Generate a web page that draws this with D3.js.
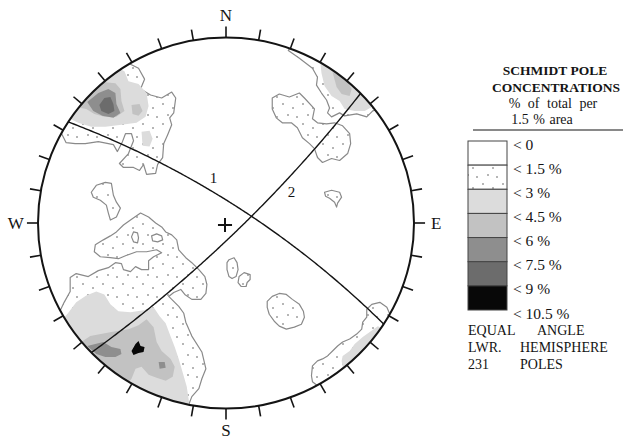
<!DOCTYPE html>
<html>
<head>
<meta charset="utf-8">
<script src="https://cdn.jsdelivr.net/npm/d3@7"></script>
<style>
  body { margin: 0; background: #fff; }
  svg text { font-family: "Liberation Serif", "DejaVu Serif", serif; fill: #141414; }
</style>
</head>
<body>
<div id="chart"></div>
<script>
// ---- data (net units: primitive circle radius = 187, origin at net centre, y up) ----
const contourLevels = [0, 1.5, 3, 4.5, 6, 7.5, 9, 10.5];
const poleCount = 231;
const cardinals = [["N", 0], ["E", 90], ["S", 180], ["W", 270]];
const planes = [
  {id: "1", dipDir: 33, dip: 78},
  {id: "2", dipDir: 135.7, dip: 82}
];

// contour outlines; level = index of the class band
const nwCluster = [
  {level: 1, pts: [[-95,160],[-87,156],[-81,145],[-85,135],[-75,129],[-64,126],[-54,132],[-50,126],[-52,111],[-56,106],[-54,99],[-58,89],[-62,80],[-63,66],[-68,59],[-70,50],[-79,49],[-82,59],[-86,53],[-92,56],[-102,56],[-106,60],[-97,70],[-92,83],[-94,90],[-100,90],[-103,82],[-108,72],[-112,79],[-127,82],[-140,80],[-150,80],[-159,81],[-164,91],[-195,100],[-165,185],[-100,205]]},
  {level: 2, pts: [[-109,157],[-101,153],[-97,143],[-87,140],[-79,131],[-77,118],[-80,107],[-89,101],[-104,99],[-120,97],[-134,97],[-147,101],[-155,105],[-195,110],[-135,185]]},
  {level: 2, pts: [[-84,92],[-76,93],[-73,85],[-76,77],[-83,78]]},
  {level: 3, pts: [[-155,118],[-150,127],[-132,137],[-120,142],[-110,141],[-105,135],[-104,123],[-101,113],[-109,107],[-121,107],[-131,110],[-139,115]]},
  {level: 3, pts: [[-94,119],[-86,120],[-83,113],[-87,108],[-93,110]]},
  {level: 4, pts: [[-138,122],[-127,131],[-117,135],[-110,131],[-109,120],[-105,111],[-112,106],[-123,108],[-132,113]]},
  {level: 5, pts: [[-126,119],[-121,126],[-115,127],[-112,120],[-111,113],[-117,110],[-124,113]]}
];

const neCluster = [
  {level: 1, pts: [[62,174],[73,166],[86,156],[91,147],[90,139],[95,131],[100,124],[103,116],[101,111],[105,107],[113,111],[118,108],[130,110],[140,107],[146,113],[185,130],[80,200]]},
  {level: 2, pts: [[93,168],[95,151],[98,138],[105,128],[113,123],[118,115],[128,113],[138,113],[145,117],[180,140],[110,185]]},
  {level: 3, pts: [[106,152],[119,146],[125,135],[123,128],[115,130],[110,137]]},
  {level: 1, pts: [[46,126],[53,130],[63,127],[73,131],[78,126],[88,115],[86,105],[91,101],[100,100],[108,101],[116,98],[123,90],[124,80],[121,70],[113,63],[105,65],[96,61],[91,66],[88,75],[83,80],[76,86],[71,96],[65,101],[56,101],[50,106],[46,115]]}
];

const westCluster = [
  {level: 1, pts: [[-169,-97],[-161,-80],[-155,-69],[-155,-55],[-149,-51],[-137,-54],[-127,-48],[-117,-45],[-110,-40],[-104,-41],[-102,-47],[-95,-49],[-90,-44],[-84,-47],[-77,-47],[-77,-38],[-72,-34],[-64,-30],[-69,-27],[-79,-29],[-89,-29],[-100,-33],[-107,-36],[-115,-35],[-125,-34],[-131,-29],[-130,-22],[-122,-17],[-115,-13],[-109,-9],[-102,-2],[-95,3],[-85,10],[-77,6],[-70,0],[-64,-4],[-60,-9],[-54,-12],[-49,-17],[-47,-27],[-40,-35],[-34,-40],[-27,-47],[-21,-54],[-19,-62],[-20,-71],[-25,-77],[-34,-77],[-41,-72],[-45,-67],[-52,-70],[-57,-74],[-47,-84],[-42,-91],[-40,-100],[-34,-114],[-24,-130],[-20,-147],[-24,-157],[-27,-167],[-34,-175],[-37,-183],[-40,-205],[-160,-160],[-200,-100]]},
  {level: 0, pts: [[-92,-9],[-88,-10],[-87,-15],[-88,-20],[-92,-19],[-94,-14]]},
  {level: 0, pts: [[-74,-13],[-69,-11],[-64,-13],[-63,-17],[-68,-19],[-73,-18]]},
  {level: 1, pts: [[-129,38],[-120,41],[-114,40],[-112,28],[-109,21],[-105,15],[-109,6],[-115,3],[-117,10],[-119,18],[-125,23],[-132,26],[-134,31]]}
];

const swCluster = [
  {level: 2, pts: [[-175,-110],[-158,-92],[-149,-80],[-139,-73],[-129,-69],[-121,-72],[-115,-82],[-107,-89],[-95,-90],[-82,-88],[-72,-85],[-66,-94],[-60,-101],[-56,-112],[-51,-125],[-47,-137],[-43,-151],[-39,-165],[-37,-179],[-35,-200],[-127,-180]]},
  {level: 3, pts: [[-147,-122],[-135,-114],[-114,-110],[-97,-107],[-87,-103],[-79,-97],[-72,-105],[-69,-120],[-64,-129],[-55,-137],[-51,-145],[-53,-155],[-60,-159],[-69,-156],[-77,-153],[-84,-145],[-90,-147],[-94,-157],[-99,-163],[-127,-150]]},
  {level: 4, pts: [[-138,-124],[-122,-120],[-114,-125],[-105,-127],[-104,-132],[-110,-135],[-120,-135],[-129,-132]]},
  {level: 4, pts: [[-67,-140],[-61,-140],[-60,-146],[-66,-147]]},
  {level: 6, pts: [[-90,-122],[-87,-119],[-85,-124],[-81,-125],[-82,-130],[-87,-131],[-92,-133],[-94,-129]]}
];

const seCluster = [
  {level: 1, pts: [[140,-87],[145,-82],[153,-80],[160,-85],[163,-92],[200,-110],[95,-190],[91,-164],[86,-160],[85,-154],[86,-144],[91,-139],[96,-137],[101,-134],[106,-129],[111,-124],[116,-120],[123,-117],[130,-112],[135,-107],[136,-100],[140,-95]]},
  {level: 2, pts: [[151,-104],[143,-110],[136,-115],[128,-122],[123,-129],[116,-134],[115,-139],[116,-145],[140,-165],[175,-115]]}
];

const centralPatches = [
  {level: 1, pts: [[3,-37],[8,-35],[11,-40],[12,-47],[10,-54],[6,-56],[3,-54],[1,-47],[1,-40]]},
  {level: 1, pts: [[13,-54],[18,-50],[24,-52],[24,-57],[21,-60],[20,-64],[15,-64],[12,-60]]},
  {level: 1, pts: [[41,-79],[46,-74],[53,-71],[60,-72],[66,-77],[73,-82],[77,-89],[78,-95],[75,-102],[68,-105],[60,-107],[53,-104],[48,-99],[43,-92],[41,-85]]},
  {level: 1, pts: [[98,31],[105,33],[113,31],[115,26],[111,20],[110,16],[108,21],[103,25],[99,27]]}
];

// ---- layout / style ----
const W = 623, H = 444;
const netR = 187;
const cx = 226, cy = 223, rx = 188, ry = 185.5;
const levelFill = ["#ffffff", "url(#dots)", "#dcdcdc", "#c2c2c2", "#8e8e8e", "#6c6c6c", "#080808"];
const ink = "#141414";
const rad = Math.PI / 180;
const labelT = {"1": 69, "2": 50};

const x = d3.scaleLinear().domain([-netR, netR]).range([cx - rx, cx + rx]);
const y = d3.scaleLinear().domain([-netR, netR]).range([cy + ry, cy - ry]);

const svg = d3.select("#chart").append("svg")
  .attr("width", W)
  .attr("height", H);

const defs = svg.append("defs");
defs.append("clipPath").attr("id", "net")
  .append("ellipse")
    .attr("cx", x(0)).attr("cy", y(0))
    .attr("rx", x(netR) - x(0)).attr("ry", y(0) - y(netR));

const pat = defs.append("pattern")
  .attr("id", "dots")
  .attr("patternUnits", "userSpaceOnUse")
  .attr("width", 20).attr("height", 20);
pat.append("rect").attr("width", 20).attr("height", 20).attr("fill", "#fff");
[[3, 4], [13, 8], [8, 15], [17, 17]].forEach(d => {
  pat.append("circle").attr("cx", d[0]).attr("cy", d[1]).attr("r", 0.8).attr("fill", "#5a5a5a");
});

// ---- contour regions ----
const outline = d3.line()
  .x(p => x(p[0]))
  .y(p => y(p[1]))
  .curve(d3.curveLinearClosed);

const rank = lv => lv == 1 ? 0 : lv == 0 ? 1 : lv;
const regions = [...nwCluster, ...neCluster, ...westCluster, ...swCluster, ...seCluster, ...centralPatches]
  .sort((a, b) => rank(a.level) - rank(b.level));

svg.append("g")
  .attr("clip-path", "url(#net)")
  .selectAll("path")
  .data(regions)
  .join("path")
    .attr("d", d => outline(d.pts))
    .attr("fill", d => levelFill[d.level])
    .attr("stroke", d => d.level <= 1 ? "#8a8a8a" : "none")
    .attr("stroke-width", 1.2)
    .attr("stroke-linejoin", "round");

// ---- great circles (equal angle, lower hemisphere) ----
function greatCircle(dipDir, dip) {
  const s = [Math.sin((dipDir - 90) * rad), Math.cos((dipDir - 90) * rad), 0],
        d = [Math.cos(dip * rad) * Math.sin(dipDir * rad), Math.cos(dip * rad) * Math.cos(dipDir * rad), Math.sin(dip * rad)];
  return d3.range(0, 181, 1).map(t => {
    const c = Math.cos(t * rad), sn = Math.sin(t * rad);
    const e = c * s[0] + sn * d[0], n = c * s[1] + sn * d[1], dn = c * s[2] + sn * d[2];
    const plunge = Math.asin(Math.min(1, Math.max(0, dn)));
    const r = Math.tan((Math.PI / 2 - plunge) / 2) * netR;
    const h = Math.hypot(e, n) || 1;
    return [r * e / h, r * n / h];
  });
}

const arc = d3.line().x(p => x(p[0])).y(p => y(p[1]));
planes.forEach(pl => {
  const pts = greatCircle(pl.dipDir, pl.dip);
  svg.append("path")
    .attr("d", arc(pts))
    .attr("fill", "none")
    .attr("stroke", ink)
    .attr("stroke-width", 1.4);
  const p = pts[labelT[pl.id]];
  svg.append("text")
    .attr("x", x(p[0]) + 12 * Math.sin(pl.dipDir * rad))
    .attr("y", y(p[1]) - 12 * Math.cos(pl.dipDir * rad))
    .attr("text-anchor", "middle")
    .attr("dominant-baseline", "central")
    .attr("font-size", 15)
    .text(pl.id);
});

// ---- primitive circle, ticks, cardinal labels ----
svg.append("ellipse")
  .attr("cx", x(0)).attr("cy", y(0))
  .attr("rx", x(netR) - x(0)).attr("ry", y(0) - y(netR))
  .attr("fill", "none")
  .attr("stroke", ink)
  .attr("stroke-width", 2);

svg.append("g").selectAll("line")
  .data(d3.range(0, 360, 10))
  .join("line")
    .attr("x1", a => x(netR * Math.sin(a * rad)))
    .attr("y1", a => y(netR * Math.cos(a * rad)))
    .attr("x2", a => x((netR + 11) * Math.sin(a * rad)))
    .attr("y2", a => y((netR + 11) * Math.cos(a * rad)))
    .attr("stroke", ink)
    .attr("stroke-width", 1.6);

svg.append("g").selectAll("text")
  .data(cardinals)
  .join("text")
    .attr("x", d => x((netR + 22) * Math.sin(d[1] * rad)))
    .attr("y", d => y((netR + 22) * Math.cos(d[1] * rad)))
    .attr("text-anchor", "middle")
    .attr("dominant-baseline", "central")
    .attr("font-size", 17)
    .text(d => d[0]);

// centre cross
const cross = svg.append("g").attr("stroke", ink).attr("stroke-width", 2);
cross.append("line").attr("x1", x(-7) - 1).attr("x2", x(7) - 1).attr("y1", y(0) + 2).attr("y2", y(0) + 2);
cross.append("line").attr("x1", x(0) - 1).attr("x2", x(0) - 1).attr("y1", y(7) + 2).attr("y2", y(-7) + 2);

// ---- legend ----
const lg = svg.append("g");
[["SCHMIDT POLE", 555, 75], ["CONCENTRATIONS", 556, 92]].forEach(t => {
  lg.append("text").attr("x", t[1]).attr("y", t[2])
    .attr("text-anchor", "middle").attr("font-size", 13.5).attr("font-weight", "bold")
    .text(t[0]);
});
lg.append("text").attr("x", 553).attr("y", 108).attr("text-anchor", "middle")
  .attr("font-size", 14).attr("word-spacing", 4).text("% of total per");
lg.append("text").attr("x", 542).attr("y", 124).attr("text-anchor", "middle")
  .attr("font-size", 14).attr("word-spacing", 1).text("1.5 % area");
lg.append("line").attr("x1", 473).attr("x2", 623).attr("y1", 130).attr("y2", 130)
  .attr("stroke", ink).attr("stroke-width", 1.2);

const boxY = d3.scaleLinear().domain([0, contourLevels.length - 1]).range([141, 310]);
lg.selectAll("rect.box")
  .data(d3.range(contourLevels.length - 1))
  .join("rect")
    .attr("class", "box")
    .attr("x", 468).attr("width", 39)
    .attr("y", i => boxY(i))
    .attr("height", i => boxY(i + 1) - boxY(i))
    .attr("fill", i => levelFill[i])
    .attr("stroke", "#444")
    .attr("stroke-width", 1);

lg.selectAll("text.lab")
  .data(contourLevels)
  .join("text")
    .attr("class", "lab")
    .attr("x", 513)
    .attr("y", (v, i) => boxY(i) + 3)
    .attr("dominant-baseline", "central")
    .attr("font-size", 15.5)
    .text(v => "< " + v + (v ? " %" : ""));

[["EQUAL", 468, 335], ["ANGLE", 537, 335], ["LWR.", 468, 352], ["HEMISPHERE", 520, 352],
 [String(poleCount), 468, 369], ["POLES", 520, 369]].forEach(t => {
  lg.append("text").attr("x", t[1]).attr("y", t[2]).attr("font-size", 14).text(t[0]);
});
</script>
</body>
</html>
